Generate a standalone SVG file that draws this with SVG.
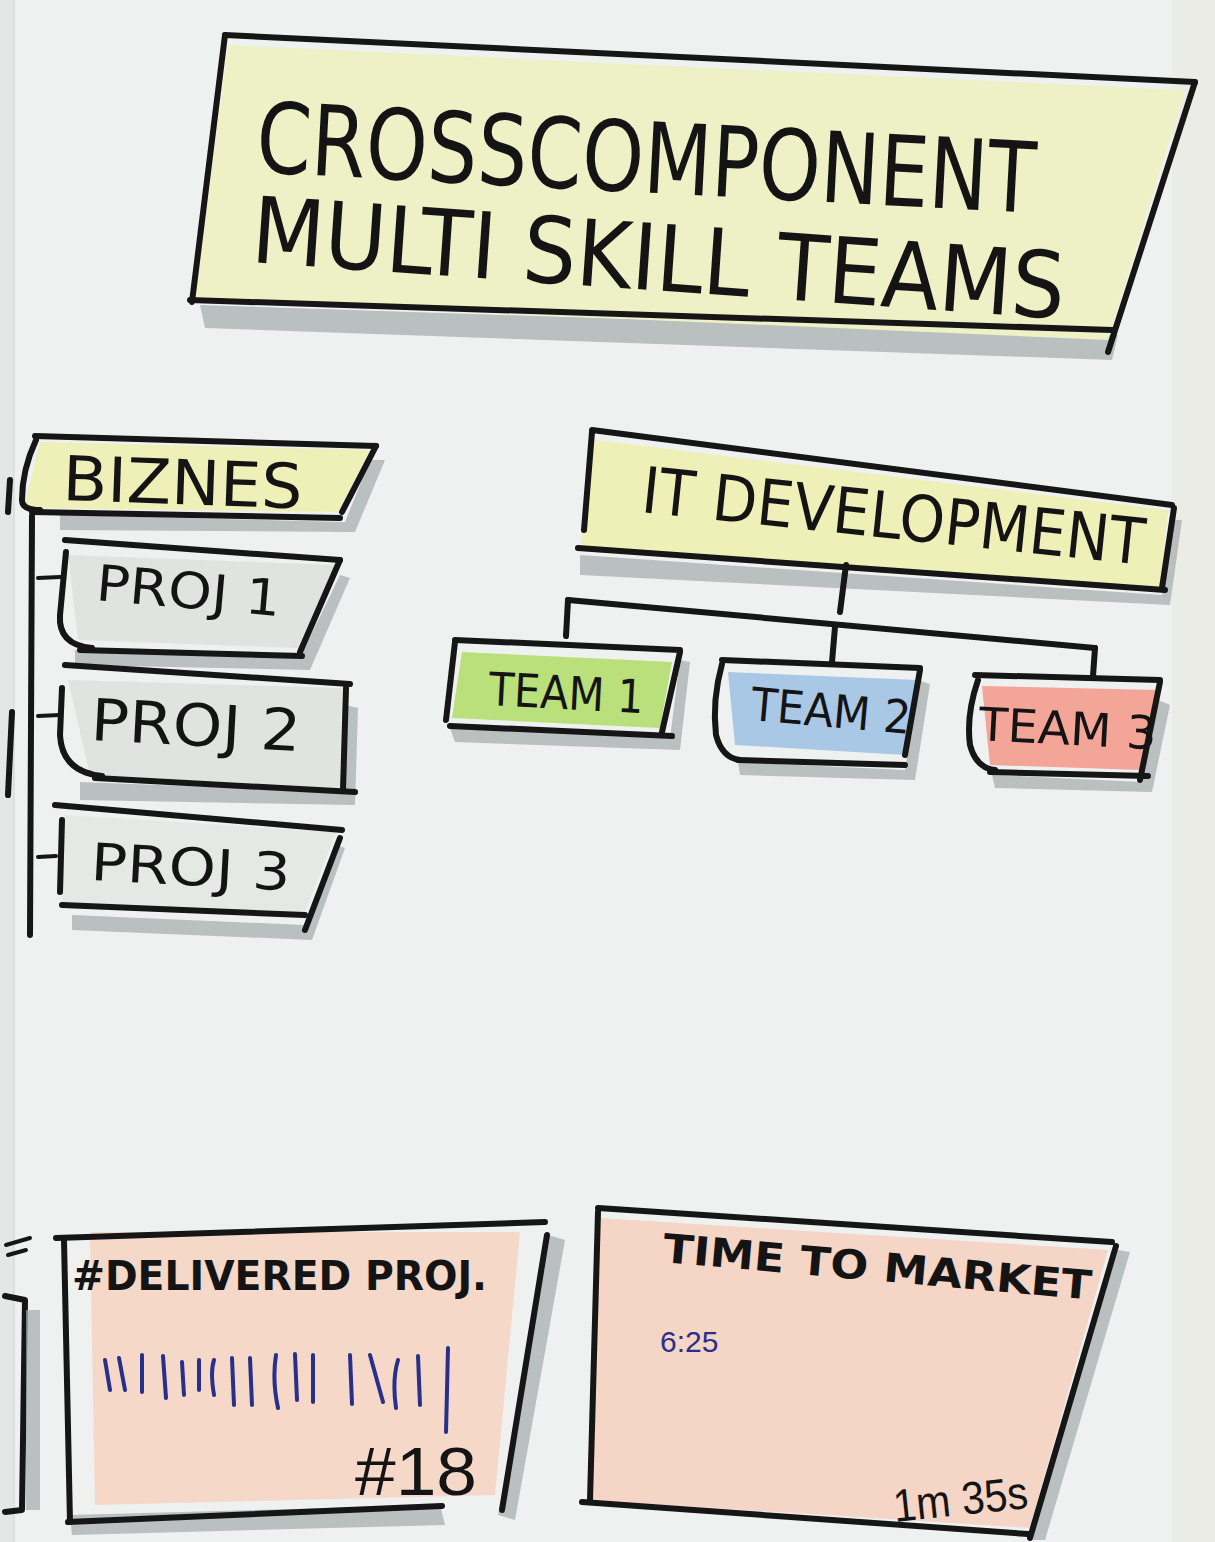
<svg xmlns="http://www.w3.org/2000/svg" width="1215" height="1542" viewBox="0 0 1215 1542">
<style>
.ink{fill:none;stroke:#161616;stroke-width:6;stroke-linecap:round;stroke-linejoin:round}
.thin{fill:none;stroke:#161616;stroke-width:4;stroke-linecap:round;stroke-linejoin:round}
.shadow{fill:#a4a9ab;opacity:0.7}
.t{font-family:"DejaVu Sans Condensed","DejaVu Sans",sans-serif;fill:#141414}
.blue{fill:none;stroke:#27308a;stroke-width:4;stroke-linecap:round}
</style>
<rect width="1215" height="1542" fill="#eff1f0"/>
<rect x="0" y="0" width="14" height="1542" fill="#e4e7e6"/>
<rect x="1172" y="0" width="43" height="1542" fill="#ebece6"/>
<line x1="14" y1="0" x2="14" y2="1542" stroke="#d0d3d2" stroke-width="1"/>

<!-- left-edge fragments of neighbouring sheet -->
<g id="edge-fragments">
<path class="ink" d="M10,480 L8,512"/>
<path class="ink" d="M12,712 L8,795"/>
<path class="thin" d="M6,1245 L30,1238 M8,1255 L26,1250"/>
<path class="ink" d="M5,1296 L25,1300 L22,1510 L5,1512"/>
<rect x="26" y="1310" width="14" height="200" class="shadow"/>
</g>

<!-- title -->
<g id="title">
<polygon class="shadow" points="200,305 1118,335 1112,360 205,328"/>
<polygon points="228,45 1185,90 1108,340 195,300" fill="#eef1c6"/>
<path class="ink" d="M225,35 L1195,82"/>
<path class="ink" d="M225,35 L192,302"/>
<path class="ink" d="M190,300 L1112,330"/>
<path class="ink" d="M1195,82 L1108,352"/>
<text class="t" x="255" y="172" font-size="98" textLength="780" lengthAdjust="spacingAndGlyphs" transform="rotate(3 255 172)">CROSSCOMPONENT</text>
<text class="t" x="250" y="262" font-size="92" textLength="815" lengthAdjust="spacingAndGlyphs" transform="rotate(4 250 262)">MULTI SKILL TEAMS</text>
</g>

<!-- BIZNES -->
<g id="biznes">
<polygon class="shadow" points="60,515 345,522 370,460 385,460 355,532 60,530"/>
<polygon points="40,442 370,450 338,512 24,508" fill="#eef0b8"/>
<path class="ink" d="M35,436 L376,446"/>
<path class="ink" d="M36,440 Q22,470 22,500 Q22,510 40,510"/>
<path class="ink" d="M32,512 L340,518"/>
<path class="ink" d="M376,446 L342,512"/>
<text class="t" x="62" y="500" font-size="62" textLength="240" lengthAdjust="spacingAndGlyphs" transform="rotate(2 62 500)">BIZNES</text>
</g>

<!-- PROJ 1 -->
<g id="proj1">
<polygon class="shadow" points="75,650 300,658 340,575 350,578 310,670 75,665"/>
<polygon points="68,555 336,565 298,648 78,640" fill="#e1e3e1"/>
<path class="ink" d="M65,540 L340,560"/>
<path class="ink" d="M66,552 L60,615 Q58,645 92,648"/>
<path class="ink" d="M80,650 L302,656"/>
<path class="ink" d="M340,560 L300,652"/>
<text class="t" x="95" y="600" font-size="50" textLength="185" lengthAdjust="spacingAndGlyphs" transform="rotate(5 95 600)">PROJ 1</text>
</g>

<!-- PROJ 2 -->
<g id="proj2">
<polygon class="shadow" points="80,782 340,792 345,705 358,708 355,805 80,800"/>
<polygon points="68,680 342,688 340,788 90,775" fill="#e1e3e1"/>
<path class="ink" d="M65,665 L350,684"/>
<path class="ink" d="M62,688 L60,735 Q62,772 102,776"/>
<path class="ink" d="M95,778 L355,792"/>
<path class="ink" d="M346,688 L343,790"/>
<text class="t" x="90" y="740" font-size="58" textLength="210" lengthAdjust="spacingAndGlyphs" transform="rotate(3 90 740)">PROJ 2</text>
</g>

<!-- PROJ 3 -->
<g id="proj3">
<polygon class="shadow" points="72,915 305,925 335,845 345,848 312,940 72,930"/>
<polygon points="64,815 336,832 305,912 62,902" fill="#e6e8e6"/>
<path class="ink" d="M55,805 L342,830"/>
<path class="ink" d="M62,820 L60,892"/>
<path class="ink" d="M62,905 L305,915"/>
<path class="ink" d="M340,838 L305,930"/>
<text class="t" x="90" y="880" font-size="52" textLength="200" lengthAdjust="spacingAndGlyphs" transform="rotate(3 90 880)">PROJ 3</text>
</g>

<!-- IT DEVELOPMENT -->
<g id="it-development">
<polygon class="shadow" points="580,555 1162,595 1172,520 1182,520 1170,605 580,575"/>
<polygon points="595,440 1168,510 1160,588 580,550" fill="#eef0b8"/>
<path class="ink" d="M592,430 L1172,505"/>
<path class="ink" d="M592,432 L584,530"/>
<path class="ink" d="M578,548 L1165,590"/>
<path class="ink" d="M1174,508 L1162,588"/>
<text class="t" x="640" y="512" font-size="64" textLength="505" lengthAdjust="spacingAndGlyphs" transform="rotate(6 640 512)">IT DEVELOPMENT</text>
</g>

<!-- connectors -->
<g id="connectors">
<path class="ink" d="M846,565 L840,612"/>
<path class="ink" d="M568,600 L1095,648"/>
<path class="ink" d="M568,600 L566,636"/>
<path class="ink" d="M835,627 L832,662"/>
<path class="ink" d="M1095,648 L1093,676"/>
<path class="thin" d="M38,578 L60,577"/>
<path class="thin" d="M38,716 L60,715"/>
<path class="thin" d="M38,857 L56,856"/>
<path class="ink" d="M32,516 L30,935"/>
</g>

<!-- TEAM 1 -->
<g id="team1">
<polygon class="shadow" points="450,728 670,738 680,660 690,662 680,750 455,742"/>
<polygon points="462,652 672,662 660,728 452,718" fill="#b9e07a"/>
<path class="ink" d="M455,640 L680,650"/>
<path class="ink" d="M455,642 L446,720"/>
<path class="ink" d="M450,726 L672,736"/>
<path class="ink" d="M680,652 L662,732"/>
<text class="t" x="488" y="705" font-size="46" textLength="155" lengthAdjust="spacingAndGlyphs" transform="rotate(3 488 705)">TEAM 1</text>
</g>

<!-- TEAM 2 -->
<g id="team2">
<polygon class="shadow" points="738,762 905,770 918,680 930,684 915,780 740,775"/>
<polygon points="728,672 918,680 905,755 735,745" fill="#a9c8e6"/>
<path class="ink" d="M722,660 L920,668"/>
<path class="ink" d="M722,664 Q712,700 716,735 Q722,758 740,760"/>
<path class="ink" d="M738,760 L905,765"/>
<path class="ink" d="M920,670 L905,755"/>
<text class="t" x="750" y="720" font-size="46" textLength="160" lengthAdjust="spacingAndGlyphs" transform="rotate(5 750 720)">TEAM 2</text>
</g>

<!-- TEAM 3 -->
<g id="team3">
<polygon class="shadow" points="992,775 1142,782 1158,700 1170,705 1152,792 995,788"/>
<polygon points="982,686 1158,690 1142,770 990,765" fill="#f3a597"/>
<path class="ink" d="M975,675 L1160,680"/>
<path class="ink" d="M978,680 Q966,715 970,745 Q976,768 995,770"/>
<path class="ink" d="M990,772 L1148,776"/>
<path class="ink" d="M1160,682 L1140,780"/>
<text class="t" x="978" y="740" font-size="46" textLength="178" lengthAdjust="spacingAndGlyphs" transform="rotate(3 978 740)">TEAM 3</text>
</g>

<!-- delivered projects -->
<g id="delivered">
<polygon class="shadow" points="548,1235 565,1240 515,1520 498,1515"/>
<polygon class="shadow" points="70,1515 440,1505 445,1525 72,1535"/>
<polygon points="90,1232 520,1232 495,1495 95,1505" fill="#f5d8c8"/>
<path class="ink" d="M56,1238 L545,1222"/>
<path class="ink" d="M64,1240 L70,1522"/>
<path class="ink" d="M68,1522 L442,1506"/>
<path class="ink" d="M547,1235 L502,1510"/>
<text class="t" x="72" y="1290" font-size="40" font-weight="bold" textLength="415" lengthAdjust="spacingAndGlyphs">#DELIVERED PROJ.</text>
<path class="blue" d="M105,1360 L110,1390 M119,1358 L125,1390 M142,1355 L142,1392 M163,1356 L166,1398 M182,1362 L184,1395 M199,1360 L199,1390 M214,1360 Q210,1372 214,1395 M232,1358 L234,1405 M250,1358 L252,1405 M276,1355 Q272,1380 278,1408 M295,1354 L297,1400 M313,1355 L313,1402 M350,1355 L352,1404 M370,1355 L383,1402 M398,1360 Q392,1380 396,1408 M418,1356 L420,1405 M448,1348 L446,1432"/>
<text x="355" y="1495" font-size="68" textLength="122" lengthAdjust="spacingAndGlyphs" fill="#141414" style="font-family:'Liberation Sans',sans-serif">#18</text>
</g>

<!-- time to market -->
<g id="time-to-market">
<polygon class="shadow" points="1118,1250 1130,1252 1045,1540 1030,1540"/>
<polygon points="600,1218 1108,1250 1030,1528 588,1500" fill="#f5d5c5"/>
<path class="ink" d="M598,1208 L1112,1242"/>
<path class="ink" d="M598,1212 L590,1500"/>
<path class="ink" d="M582,1502 L1028,1534"/>
<path class="ink" d="M1116,1246 L1030,1538"/>
<text class="t" x="662" y="1262" font-size="40" font-weight="bold" textLength="430" lengthAdjust="spacingAndGlyphs" transform="rotate(5 662 1262)">TIME TO MARKET</text>
<text x="660" y="1352" font-size="30" fill="#27308a" style="font-family:'Liberation Sans',sans-serif">6:25</text>
<text x="895" y="1522" font-size="46" textLength="135" lengthAdjust="spacingAndGlyphs" fill="#141414" transform="rotate(-6 895 1522)" style="font-family:'Liberation Sans',sans-serif">1m 35s</text>
</g>
</svg>
